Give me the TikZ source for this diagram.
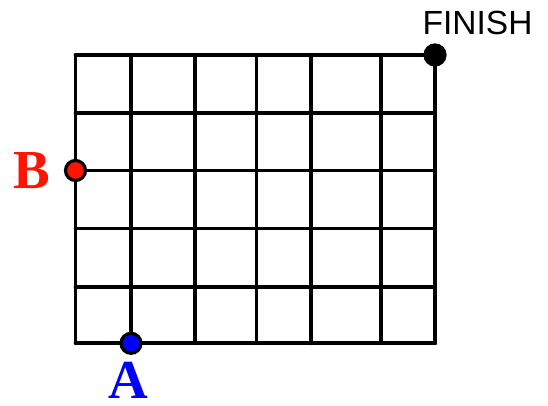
\documentclass[tikz,border=0pt]{standalone}
\usepackage{fontspec}
\setmainfont{Liberation Serif}
\newfontfamily\finishfont{Liberation Sans}
\definecolor{ptred}{RGB}{255,20,0}
\definecolor{ptblue}{RGB}{0,0,255}
\begin{document}
\begin{tikzpicture}[x=1pt,y=-1pt,
  gridline/.style={line width=3.8pt,line cap=round,line join=round},
  dot/.style={circle,draw=black,line width=3.2pt,minimum size=20pt,inner sep=0pt},
  letter/.style={font=\fontsize{55}{58}\selectfont\bfseries,inner sep=0pt,anchor=base}]
\useasboundingbox (0,0) rectangle (548,405);
% vertical lines
\foreach \x in {75.5,131,195,256.5,311,380.7,435}
  \draw[gridline] (\x,55) -- (\x,343.3);
% horizontal lines
\foreach \y in {55,113.3,170.5,228.5,287.3,343.3}
  \draw[gridline] (75.5,\y) -- (435,\y);
\node[dot,fill=black] (fin) at (435,55) {};
\node[dot,fill=ptred] (bdot) at (75.5,170.5) {};
\node[dot,fill=ptblue] (adot) at (131,343.3) {};
\node[letter,text=ptred] (blab) at (32,188.3) {B};
\node[letter,text=ptblue] (alab) at (128,398.5) {A};
\node[font=\finishfont\fontsize{33.5}{36}\selectfont,inner sep=0pt,anchor=base west] (finlab) at (422.5,34.3) {FINISH};
\end{tikzpicture}
\end{document}
